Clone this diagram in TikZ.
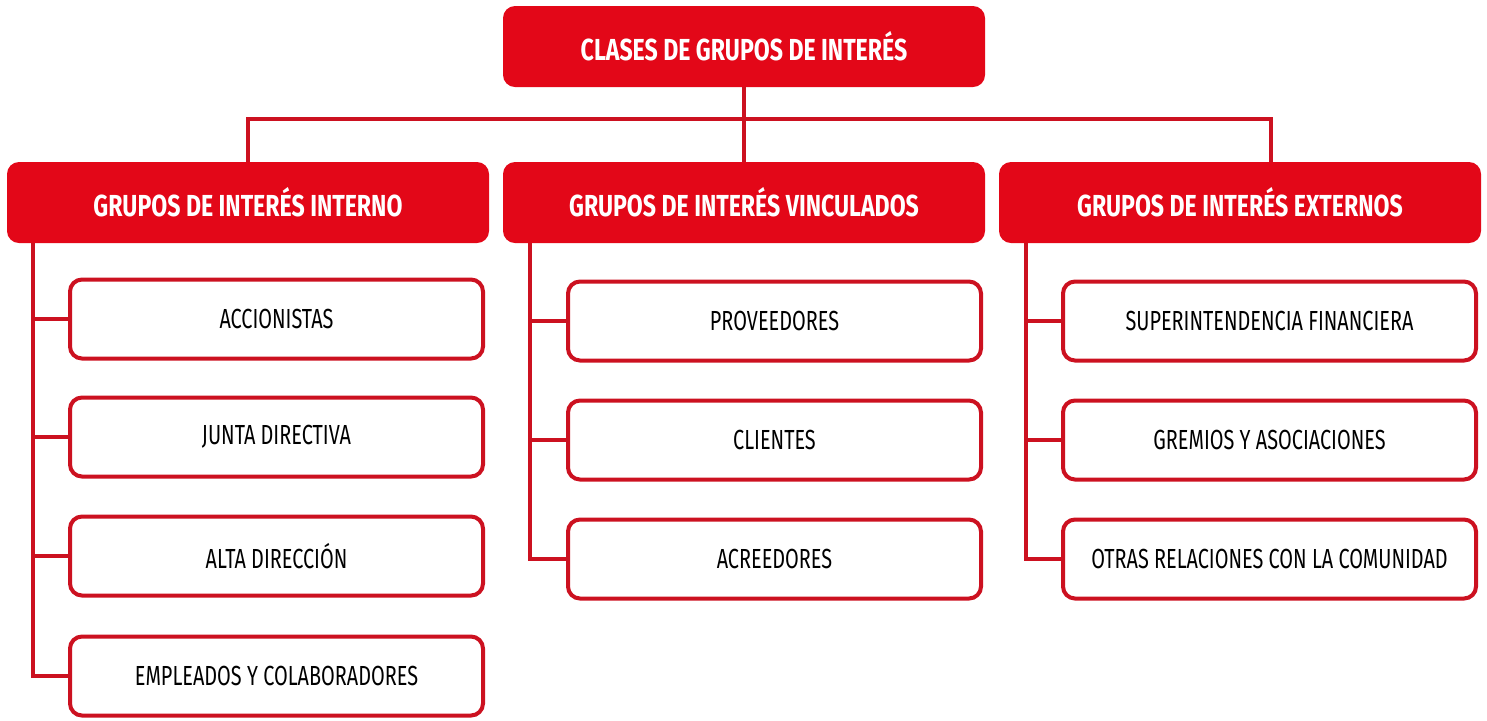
\documentclass[tikz,border=0pt]{standalone}
\usepackage{fontspec}
\setmainfont[FakeStretch=0.72, BoldFeatures={FakeStretch=0.76}]{Fira Sans}
\usetikzlibrary{positioning}
\definecolor{boxred}{HTML}{E30718}
\definecolor{linered}{HTML}{CC1120}
\tikzset{
  head/.style = {
    draw=none, fill=boxred, rounded corners=6pt, text=white,
    minimum width=241pt, minimum height=40.5pt,
    font=\fontsize{15.2}{17}\selectfont\bfseries
  },
  item/.style = {
    draw=linered, line width=2pt, fill=white, rounded corners=6pt, text=black,
    minimum width=206.5pt, minimum height=39.5pt,
    font=\fontsize{13.8}{16}\selectfont
  },
  link/.style = {draw=linered, line width=2pt}
}

\begin{document}
\begin{tikzpicture}[x=0.5pt, y=-0.5pt]

  \useasboundingbox (0,0) rectangle (1487,720);

  % Top box
  \node[head] (top) at (744,46.5) {CLASES DE GRUPOS DE INTERÉS};

  % Groups
  \node[head] (int) at (248,202.5) {GRUPOS DE INTERÉS INTERNO};
  \node[head] (vin) at (744,202.5) {GRUPOS DE INTERÉS VINCULADOS};
  \node[head] (ext) at (1240,202.5) {GRUPOS DE INTERÉS EXTERNOS};

  % Branches
  \coordinate (bar) at (744,119);
  \coordinate (extjoin) at (1271,162);
  \draw[link] (top.south) -- (vin.north);
  \draw[link] (int.north) |- (extjoin |- bar) -- (extjoin);

  % Internal
  \node[item] (acc) at (276.5,319) {ACCIONISTAS};
  \node[item] (jun) at (276.5,437) {JUNTA DIRECTIVA};
  \node[item] (alt) at (276.5,556) {ALTA DIRECCIÓN};
  \node[item] (emp) at (276.5,676) {EMPLEADOS Y COLABORADORES};

  % Linked
  \node[item] (pro) at (774.5,321) {PROVEEDORES};
  \node[item] (cli) at (774.5,440) {CLIENTES};
  \node[item] (acr) at (774.5,559) {ACREEDORES};

  % External
  \node[item] (sup) at (1269.5,321) {SUPERINTENDENCIA FINANCIERA};
  \node[item] (gre) at (1269.5,440) {GREMIOS Y ASOCIACIONES};
  \node[item] (otr) at (1269.5,559) {OTRAS RELACIONES CON LA COMUNIDAD};

  % Spines
  \coordinate (sp1) at (33,243);
  \coordinate (sp2) at (530,243);
  \coordinate (sp3) at (1026,243);
  \draw[link] (sp1) |- (emp.west);
  \foreach \n in {acc,jun,alt} \draw[link] (sp1 |- \n) -- (\n.west);
  \draw[link] (sp2) |- (acr.west);
  \foreach \n in {pro,cli} \draw[link] (sp2 |- \n) -- (\n.west);
  \draw[link] (sp3) |- (otr.west);
  \foreach \n in {sup,gre} \draw[link] (sp3 |- \n) -- (\n.west);

\end{tikzpicture}
\end{document}
